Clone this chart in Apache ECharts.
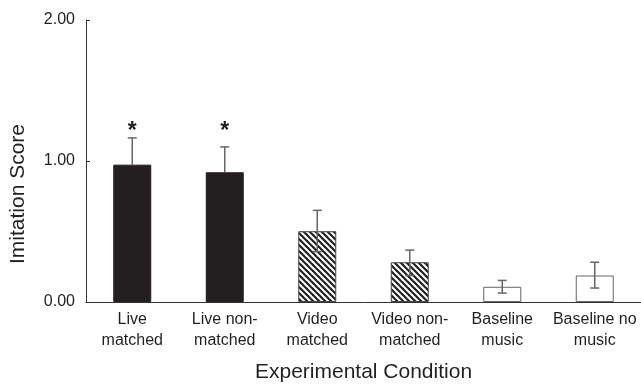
<!DOCTYPE html>
<html>
<head>
<meta charset="utf-8">
<script src="https://cdn.jsdelivr.net/npm/echarts@6/dist/echarts.min.js"></script>
<style>html,body{margin:0;padding:0;background:#fff;}#c{width:641px;height:388px;}</style>
</head>
<body>
<div id="c"></div>
<script>
const categories = ['Live\nmatched', 'Live non-\nmatched', 'Video\nmatched', 'Video non-\nmatched', 'Baseline\nmusic', 'Baseline no\nmusic'];
const means = [0.974, 0.92, 0.502, 0.282, 0.108, 0.188];
const errHigh = [1.164, 1.10, 0.65, 0.368, 0.153, 0.282];
const errLow = [0.974, 0.92, 0.357, 0.188, 0.063, 0.099];
const fills = ['solid', 'solid', 'hatch', 'hatch', 'open', 'open'];
const marks = ['*', '*', '', '', '', ''];
const markLevel = 1.25;
const yTicks = [0, 1, 2];

const ink = '#231f20';

function hatchPattern() {
  const s = 6;
  const cv = document.createElement('canvas');
  cv.width = s; cv.height = s;
  const ctx = cv.getContext('2d');
  ctx.fillStyle = '#fff';
  ctx.fillRect(0, 0, s, s);
  ctx.strokeStyle = ink;
  ctx.lineWidth = 2.2;
  for (let k = -1; k <= 1; k++) {
    ctx.beginPath();
    ctx.moveTo(k * s - 1, -1);
    ctx.lineTo(k * s + s + 1, s + 1);
    ctx.stroke();
  }
  return { image: cv, repeat: 'repeat' };
}
const hatch = hatchPattern();

const barData = means.map((v, i) => {
  let style;
  if (fills[i] === 'solid') style = { color: ink, borderColor: ink, borderWidth: 1 };
  else if (fills[i] === 'hatch') style = { color: hatch, borderColor: '#444', borderWidth: 1 };
  else style = { color: '#fff', borderColor: '#666', borderWidth: 1 };
  return { value: v, itemStyle: style };
});

const errData = means.map((v, i) => [i, v, errHigh[i], errLow[i]]);

const chart = echarts.init(document.getElementById('c'), null, { renderer: 'canvas' });
chart.setOption({
  animation: false,
  backgroundColor: '#fff',
  grid: { left: 84, right: 0, top: 20, bottom: 84, containLabel: false },
  xAxis: {
    type: 'category',
    data: categories,
    axisLine: { lineStyle: { color: '#333', width: 1 } },
    axisTick: { show: false },
    axisLabel: { color: ink, fontFamily: 'Liberation Sans, Arial, sans-serif', fontSize: 16, lineHeight: 21, margin: 7, interval: 0 },
    name: 'Experimental Condition',
    nameLocation: 'middle',
    nameGap: 60,
    nameTextStyle: { color: ink, fontFamily: 'Liberation Sans, Arial, sans-serif', fontSize: 21 }
  },
  yAxis: {
    type: 'value',
    min: yTicks[0],
    max: yTicks[yTicks.length - 1],
    interval: 1,
    splitLine: { show: false },
    axisLine: { show: true, lineStyle: { color: '#333', width: 1 } },
    axisTick: { show: true, inside: true, length: 4, lineStyle: { color: '#333' } },
    axisLabel: { color: ink, fontFamily: 'Liberation Sans, Arial, sans-serif', fontSize: 16, margin: 11, formatter: v => v.toFixed(2) },
    name: 'Imitation Score',
    nameLocation: 'middle',
    nameGap: 57,
    nameTextStyle: { color: ink, fontFamily: 'Liberation Sans, Arial, sans-serif', fontSize: 21, padding: [0, 66, 0, 0] }
  },
  series: [
    {
      type: 'bar',
      data: barData,
      barWidth: 38,
      z: 2
    },
    {
      type: 'custom',
      z: 3,
      data: errData,
      renderItem: function (params, api) {
        const i = api.value(0);
        const top = api.coord([i, api.value(2)]);
        const bot = api.coord([i, api.value(3)]);
        const hw = 4.5;
        const st = { stroke: '#666', lineWidth: 1.5 };
        const children = [
          { type: 'line', shape: { x1: top[0], y1: top[1], x2: bot[0], y2: bot[1] }, style: st },
          { type: 'line', shape: { x1: top[0] - hw, y1: top[1], x2: top[0] + hw, y2: top[1] }, style: st }
        ];
        if (api.value(3) < api.value(1)) {
          children.push({ type: 'line', shape: { x1: bot[0] - hw, y1: bot[1], x2: bot[0] + hw, y2: bot[1] }, style: st });
        }
        const m = marks[i];
        if (m) {
          const mp = api.coord([i, markLevel]);
          children.push({
            type: 'text',
            style: {
              text: m, x: mp[0], y: mp[1] + 6,
              align: 'center', verticalAlign: 'middle',
              fill: ink, font: 'bold 23px "Liberation Sans", Arial, sans-serif'
            }
          });
        }
        return { type: 'group', children: children };
      }
    }
  ]
});
</script>
</body>
</html>
